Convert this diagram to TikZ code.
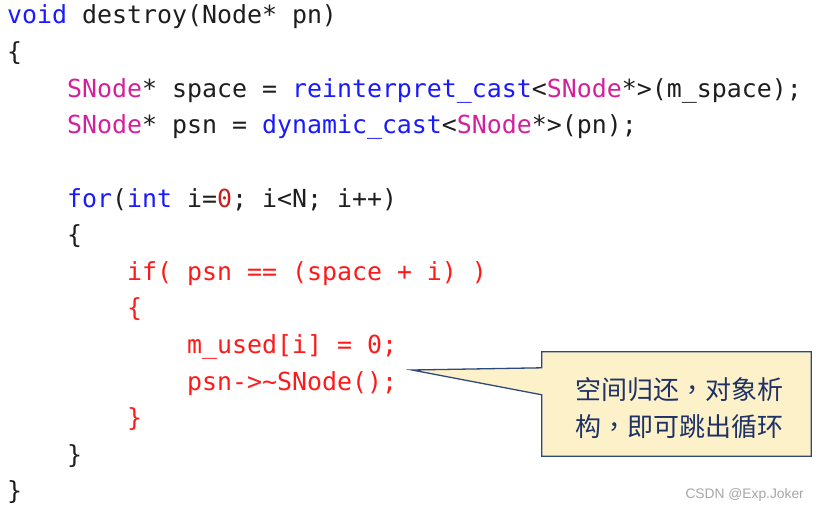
\documentclass[tikz,border=0pt]{standalone}
\usepackage{fontspec}
\usepackage{xcolor}
\setmonofont{DejaVu Sans Mono}
\setsansfont{Liberation Sans}
\newfontfamily\cjk{Noto Sans CJK SC}
\newfontfamily\cjktc{Noto Sans CJK TC}
\usetikzlibrary{calc}
\definecolor{kwblue}{HTML}{1A1AFF}
\definecolor{typemag}{HTML}{D4209C}
\definecolor{numred}{HTML}{C81E1E}
\definecolor{stmred}{HTML}{FF1A1A}
\definecolor{codeblack}{HTML}{1E1E1E}
\definecolor{notefill}{HTML}{FCF1C9}
\definecolor{noteline}{HTML}{2E4A7A}
\definecolor{notetextc}{HTML}{1F3266}
\newcommand{\cjkcomma}{{\cjktc ，}}

\begin{document}
\begin{tikzpicture}[x=1pt, y=-1pt, codeline/.style={anchor=base west, inner sep=0pt, font=\ttfamily\fontsize{24.9}{30}\selectfont, text=codeblack}, redline/.style={codeline, text=stmred}, notebox/.style={rectangle, minimum width=269pt, minimum height=104pt, inner sep=0pt}, notetext/.style={align=center, font=\cjk\fontsize{26}{37}\selectfont, text=notetextc, inner sep=0pt}, callout/.style={draw=noteline, fill=notefill, line width=1.3pt, line join=miter}]
\useasboundingbox (0,0) rectangle (819,511);
%code
\node[codeline] at (7, 24) (l1) {\textcolor{kwblue}{void} destroy(Node* pn)};
\node[codeline] at (7, 60.6) (l2) {\{};
\node[codeline] at (67, 97.2) (l3) {\textcolor{typemag}{SNode}* space = \textcolor{kwblue}{reinterpret\_cast}<\textcolor{typemag}{SNode}*>(m\_space);};
\node[codeline] at (67, 133.8) (l4) {\textcolor{typemag}{SNode}* psn = \textcolor{kwblue}{dynamic\_cast}<\textcolor{typemag}{SNode}*>(pn);};
\node[codeline] at (67, 207) (l6) {\textcolor{kwblue}{for}(\textcolor{kwblue}{int} i=\textcolor{numred}{0}; i<N; i++)};
\node[codeline] at (67, 243.6) (l7) {\{};
\node[redline] at (127, 280.2) (l8) {if( psn == (space + i) )};
\node[redline] at (127, 316.8) (l9) {\{};
\node[redline] at (187, 353.4) (l10) {m\_used[i] = 0;};
\node[redline] at (187, 390) (l11) {psn->\textasciitilde SNode();};
\node[redline] at (127, 426.6) (l12) {\}};
\node[codeline] at (67, 463.2) (l13) {\}};
\node[codeline] at (7, 499.8) (l14) {\}};
%note
\coordinate (tip) at (412, 370);
\node[notebox] at (676.5, 404) (note) {};
\draw[callout] (note.north west) -- (note.north east) -- (note.south east) -- (note.south west) -- ($(note.north west)+(0,43)$) -- (tip) -- ($(note.north west)+(0,16)$) -- cycle;
\node[notetext] at (679, 408) (notetxt) {空间归还\cjkcomma 对象析\\构\cjkcomma 即可跳出循环};
\node[anchor=base east, inner sep=0pt, font=\sffamily\fontsize{13.8}{15}\selectfont, text=black!35] at (804, 498) (mark) {CSDN @Exp.Joker};
\end{tikzpicture}
\end{document}
